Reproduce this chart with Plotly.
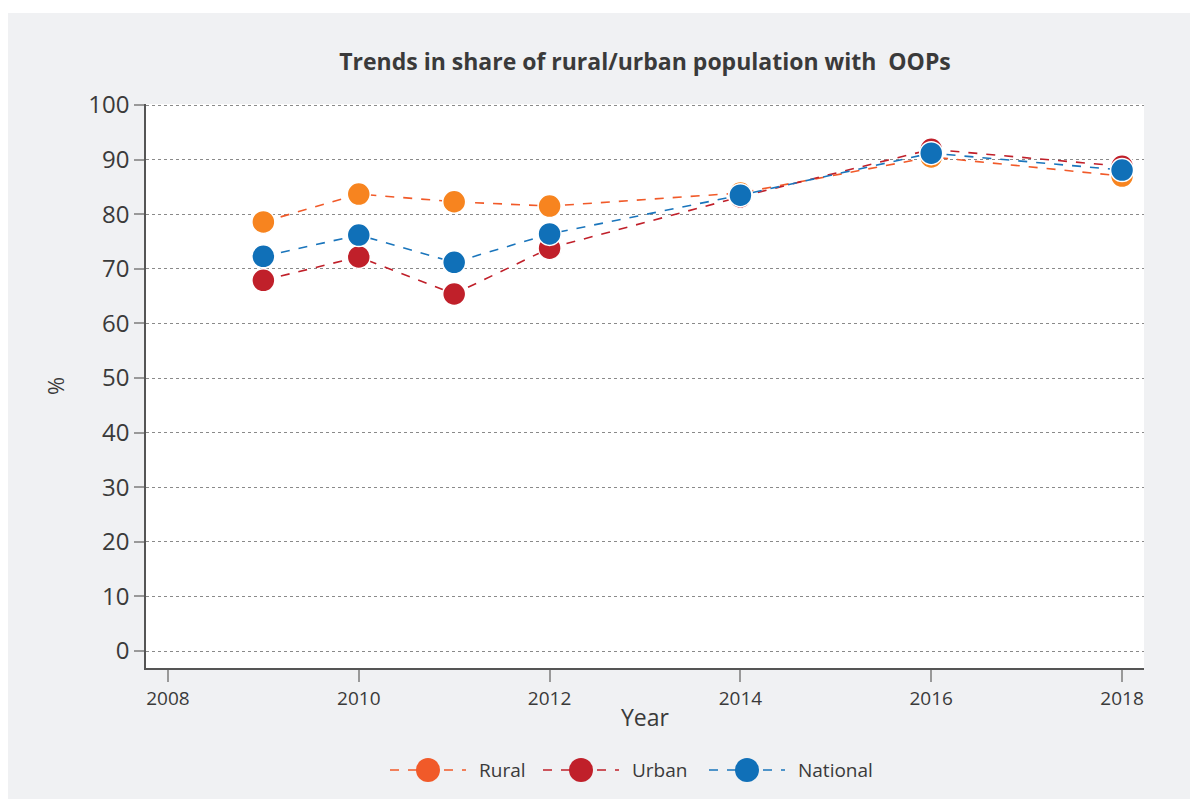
import plotly.graph_objects as go

years = [2009, 2010, 2011, 2012, 2014, 2016, 2018]
rural = [78.6, 83.7, 82.3, 81.5, 83.9, 90.5, 87.0]
urban = [67.9, 72.2, 65.4, 73.8, 83.2, 91.9, 88.8]
national = [72.3, 76.2, 71.2, 76.4, 83.5, 91.2, 88.1]
x_ticks = [2008, 2010, 2012, 2014, 2016, 2018]
y_ticks = [0, 10, 20, 30, 40, 50, 60, 70, 80, 90, 100]

# name, values, line colour, marker colour, legend marker colour
series = [
    ("Rural", rural, "#F15A29", "#F7841F", "#F15A29"),
    ("Urban", urban, "#C0202A", "#C0202A", "#C0202A"),
    ("National", national, "#1A75BC", "#1070B8", "#1070B8"),
]

fig = go.Figure()
for name, vals, lc, mc, _ in series:
    fig.add_trace(go.Scatter(
        x=years, y=vals, name=name, mode="lines+markers", showlegend=False,
        line=dict(color=lc, width=1.6, dash="dash"),
        marker=dict(size=23, color=mc, line=dict(color="white", width=1.5)),
    ))

L, R, T, B = 138, 62, 96, 139
PW, PH = 1198 - L - R, 799 - T - B


def px(fx):
    return (fx - L) / PW


def py(fy):
    return (T + PH - fy) / PH


# custom legend (figure pixel positions of each legend item's line start)
legend_y = 762
legend_starts = [382, 535, 701]
shapes = [dict(type="rect", xref="paper", yref="paper",
               x0=px(0), x1=px(1198), y0=py(5), y1=py(-5),
               fillcolor="white", line=dict(width=0), layer="below")]
annotations = []
for (name, _, lc, _, lmc), x0 in zip(series, legend_starts):
    shapes.append(dict(type="line", xref="paper", yref="paper",
                       x0=px(x0), x1=px(x0 + 76), y0=py(legend_y), y1=py(legend_y),
                       line=dict(color=lc, width=1.6, dash="dash")))
    cx = x0 + 38
    shapes.append(dict(type="circle", xref="paper", yref="paper",
                       x0=px(cx - 12), x1=px(cx + 12),
                       y0=py(legend_y + 12), y1=py(legend_y - 12),
                       fillcolor=lmc, line=dict(color=lmc, width=0)))
    annotations.append(dict(text=name, xref="paper", yref="paper",
                            x=px(x0 + 87), y=py(legend_y), xanchor="left",
                            yanchor="middle", showarrow=False,
                            font=dict(size=19, color="#3a3a3a")))

fig.update_layout(
    width=1198, height=799,
    paper_bgcolor="#F0F1F3",
    plot_bgcolor="white",
    margin=dict(l=L, r=R, t=T, b=B),
    title=dict(text="<b>Trends in share of rural/urban population with  OOPs</b>",
               xref="paper", x=0.5, xanchor="center", y=1 - 54 / 799, yanchor="middle",
               font=dict(family="Open Sans, sans-serif", size=23, color="#3a3a3a")),
    font=dict(family="Open Sans, sans-serif", color="#3a3a3a"),
    showlegend=False,
    shapes=shapes,
    annotations=annotations,
)
fig.update_xaxes(
    range=[2007.77, 2018.23], tickvals=x_ticks, ticktext=[str(t) for t in x_ticks],
    showgrid=False, zeroline=False, showline=True, linecolor="#555555", linewidth=1.5,
    ticks="outside", ticklen=12, tickcolor="#999999", tickwidth=1.5,
    tickfont=dict(size=19, color="#3a3a3a"),
    title=dict(text="Year", font=dict(size=23, color="#3a3a3a"), standoff=0),
)
fig.update_yaxes(
    range=[-3.1, 100.2], tickvals=y_ticks,
    showgrid=True, gridcolor="#8a8a8a", griddash="dot", gridwidth=1,
    zeroline=False, showline=True, linecolor="#555555", linewidth=1.5,
    ticks="outside", ticklen=10, tickcolor="#999999", tickwidth=1.5,
    tickfont=dict(size=24, color="#3a3a3a"),
    title=dict(text="%", font=dict(size=22, color="#3a3a3a"), standoff=18),
)
fig.write_html("out.html")
